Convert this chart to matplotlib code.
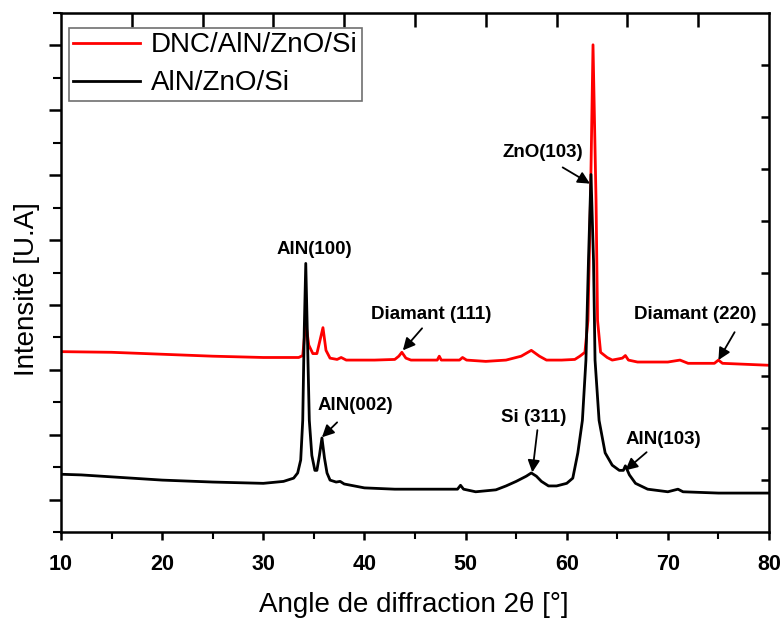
import matplotlib
matplotlib.use("Agg")
import matplotlib.pyplot as plt
from matplotlib.ticker import MultipleLocator

plt.rcParams['font.family'] = ['Liberation Sans', 'DejaVu Sans']

# -------------------------------
# DATA
# -------------------------------
# AlN/ZnO/Si (black)
two_theta_black = [10, 12, 15, 20, 25, 30, 32, 33, 33.4, 33.7, 33.9, 34.05, 34.2,
                   34.35, 34.55, 34.8, 35.1, 35.3, 35.55, 35.8, 36.05, 36.3, 36.6,
                   37.2, 37.6, 38.0, 40, 43, 45, 48, 49.2, 49.5, 49.8, 51, 53, 54,
                   55, 56, 56.5, 57, 57.5, 58.2, 59, 60, 60.6, 61.1, 61.55, 61.9,
                   62.15, 62.4, 62.65, 62.8, 63.2, 63.8, 64.5, 65.2, 65.6, 65.8,
                   66.2, 66.8, 68, 70, 71, 71.5, 75, 80]
intensity_black = [89, 88, 85, 80, 77, 75, 78, 83, 91, 111, 172, 311, 414,
                   311, 172, 118, 95, 95, 118, 145, 114, 91, 80,
                   77, 78, 74, 68, 66, 66, 66, 66, 72, 66, 62, 65, 71,
                   78, 86, 91, 86, 78, 71, 71, 75, 83, 122, 172, 265,
                   418, 551, 418, 265, 172, 122, 103, 95, 95, 102,
                   88, 75, 66, 62, 66, 62, 60, 60]

# DNC/AlN/ZnO/Si (red)
two_theta_red = [10, 15, 20, 25, 30, 33.5, 33.9, 34.2, 34.5, 34.9, 35.3, 35.6,
                 35.9, 36.2, 36.6, 37.3, 37.7, 38.2, 41, 43.0, 43.4, 43.7, 44.1,
                 44.6, 47.2, 47.4, 47.6, 49.4, 49.7, 50.1, 52, 54, 55.5, 56.5,
                 57.3, 58, 59.5, 60.8, 61.3, 61.8, 62.1, 62.35, 62.6, 62.9,
                 63.05, 63.35, 64.0, 64.5, 65.5, 65.8, 66.1, 67, 70, 71.2, 72,
                 74.6, 75.0, 75.4, 80]
intensity_red = [278, 277, 274, 271, 269, 269, 272, 323, 288, 275, 275, 295,
                 315, 280, 268, 266, 269, 265, 265, 266, 271, 277, 268,
                 265, 265, 271, 265, 265, 269, 265, 263, 265, 271, 280,
                 271, 265, 265, 266, 271, 277, 326, 511, 751, 511,
                 326, 277, 269, 265, 268, 272, 265, 262, 262, 265, 260,
                 260, 265, 260, 257]

# peak labels: (text, text x, text y, arrow start, arrow end)
peak_labels = [
    ("AlN(100)", 35.0, 435, None, None),
    ("AlN(002)", 39.1, 195, (37.3, 169), (35.8, 146)),
    ("Diamant (111)", 46.6, 335, (45.7, 314), (43.8, 280)),
    ("Diamant (220)", 72.7, 335, (76.6, 308), (75.0, 265)),
    ("ZnO(103)", 57.6, 585, (59.6, 562), (62.3, 537)),
    ("Si (311)", 56.7, 177, (57.1, 157), (56.6, 92)),
    ("AlN(103)", 69.6, 142, (67.9, 123), (65.8, 95)),
]

# -------------------------------
# PLOT
# -------------------------------
fig = plt.figure(figsize=(7.81, 6.21), dpi=100)
ax = fig.add_axes([61 / 781, 1 - 532 / 621, 708 / 781, 519 / 621])

ax.plot(two_theta_red, intensity_red, color='#ff0000', lw=2, label='DNC/AlN/ZnO/Si')
ax.plot(two_theta_black, intensity_black, color='black', lw=2, label='AlN/ZnO/Si')

for text, tx, ty, start, end in peak_labels:
    ax.text(tx, ty, text, fontsize=13.5, fontweight='bold', ha='center', va='center')
    if start is not None:
        ax.annotate('', xy=end, xytext=start,
                    arrowprops=dict(arrowstyle='-|>', color='black', lw=1.3,
                                    mutation_scale=18, shrinkA=0, shrinkB=0))

ax.set_xlim(10, 80)
ax.set_ylim(0, 800)

for s in ax.spines.values():
    s.set_linewidth(1.8)

ax.xaxis.set_major_locator(MultipleLocator(10))
ax.xaxis.set_minor_locator(MultipleLocator(5))
ax.set_yticks([50, 150, 250, 350, 450, 550, 650, 750])
ax.yaxis.set_minor_locator(MultipleLocator(100))
ax.tick_params(axis='x', which='major', direction='out', length=6, width=1.8,
               labelsize=15.5, pad=10)
ax.tick_params(axis='x', which='minor', direction='out', length=5, width=1.5)
ax.tick_params(axis='y', which='major', direction='out', length=9, width=1.8,
               labelleft=False)
ax.tick_params(axis='y', which='minor', direction='out', length=6, width=1.5)
for lab in ax.get_xticklabels():
    lab.set_fontweight('bold')

# extra ticks on top and right spines
top = ax.secondary_xaxis('top')
top.set_xticks([17, 24, 31, 38, 45, 52, 59, 66, 73])
top.tick_params(direction='in', length=10, width=1.8, labeltop=False)
right = ax.secondary_yaxis('right')
right.set_yticks([80, 160, 240, 320, 400, 480, 560, 640, 720])
right.tick_params(direction='in', length=6, width=1.8, labelright=False)

fig.text(414 / 781, 1 - 605 / 621, 'Angle de diffraction 2θ [°]', fontsize=20,
         ha='center', va='center')
fig.text(27 / 781, 1 - 289 / 621, 'Intensité [U.A]', fontsize=20, rotation=90,
         ha='center', va='center')

leg = ax.legend(loc='upper left', bbox_to_anchor=(8 / 708, 1 - 15 / 519),
                borderaxespad=0, fontsize=20, handlelength=2.4, handletextpad=0.4,
                borderpad=0.16, labelspacing=0.43, fancybox=False, framealpha=1)
leg.get_frame().set_edgecolor('#707070')
leg.get_frame().set_linewidth(1.2)

plt.savefig('out.png', dpi=100)
